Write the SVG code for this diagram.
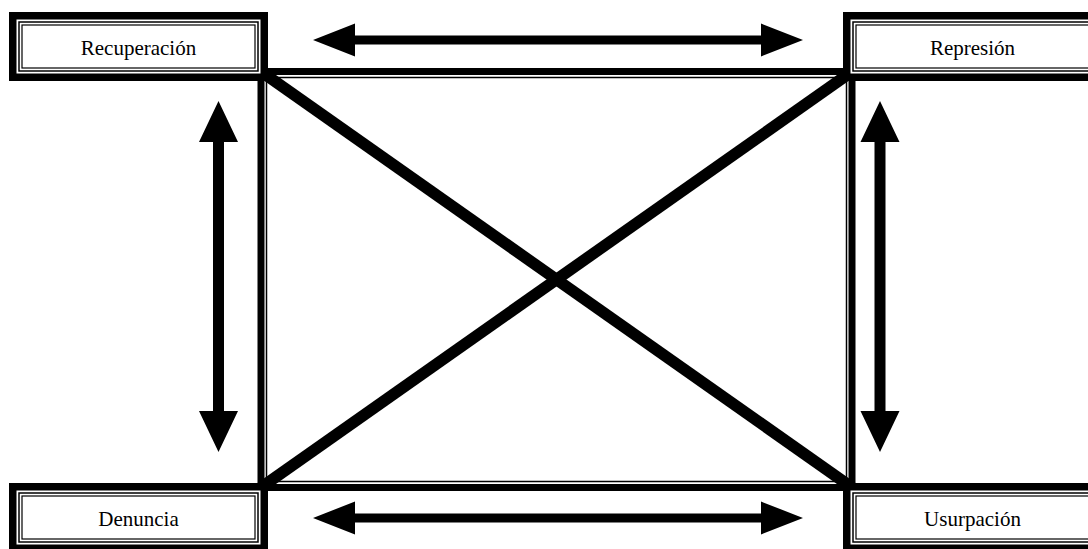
<svg xmlns="http://www.w3.org/2000/svg" width="1088" height="549" viewBox="0 0 1088 549">
<style>
.bg{fill:#ffffff}
.thick{fill:#ffffff;stroke:#000;stroke-width:7.5}
.thin{fill:none;stroke:#000;stroke-width:1.5}
.thin2{fill:none;stroke:#000;stroke-width:1.2}
.lbl{font-family:"Liberation Serif","Times New Roman",serif;font-size:21px;fill:#000;text-anchor:middle}
.frame{fill:none;stroke:#000;stroke-width:7}
.frame2{fill:none;stroke:#000;stroke-width:1.5}
.diag{stroke:#000;stroke-width:11.5;fill:none}
.arrow{fill:#000;stroke:none}
</style>
<rect class="bg" x="0" y="0" width="1088" height="549"/>
<g id="connectors">
  <rect class="frame" x="261" y="71.5" width="591" height="416"/>
  <rect class="frame2" x="266.5" y="77.5" width="580" height="404"/>
  <line class="diag" x1="261" y1="71.5" x2="852" y2="487.5"/>
  <line class="diag" x1="852" y1="71.5" x2="261" y2="487.5"/>
  <polygon class="arrow" points="313,40 355,23.5 355,35.5 761,35.5 761,23.5 803,40 761,56.5 761,44.5 355,44.5 355,56.5"/>
  <polygon class="arrow" points="313,518 355,501.5 355,513.5 761,513.5 761,501.5 803,518 761,534.5 761,522.5 355,522.5 355,534.5"/>
  <polygon class="arrow" points="218.5,101 238,142 224,142 224,411 238,411 218.5,452 199,411 213,411 213,142 199,142"/>
  <polygon class="arrow" points="880,101 899.5,142 885.5,142 885.5,411 899.5,411 880,452 860.5,411 874.5,411 874.5,142 860.5,142"/>
</g>
<g id="recuperacion" transform="translate(9,12)">
  <rect class="thick" x="3.75" y="3.75" width="251.5" height="61.5"/>
  <rect class="thin" x="10" y="10" width="239" height="49"/>
  <rect class="thin2" x="13" y="13" width="233" height="43"/>
  <text class="lbl" x="129.5" y="43">Recuperación</text>
</g>
<g id="represion" transform="translate(843,12)">
  <rect class="thick" x="3.75" y="3.75" width="251.5" height="61.5"/>
  <rect class="thin" x="10" y="10" width="239" height="49"/>
  <rect class="thin2" x="13" y="13" width="233" height="43"/>
  <text class="lbl" x="129.5" y="43">Represión</text>
</g>
<g id="denuncia" transform="translate(9,483)">
  <rect class="thick" x="3.75" y="3.75" width="251.5" height="61.5"/>
  <rect class="thin" x="10" y="10" width="239" height="49"/>
  <rect class="thin2" x="13" y="13" width="233" height="43"/>
  <text class="lbl" x="129.5" y="43">Denuncia</text>
</g>
<g id="usurpacion" transform="translate(843,483)">
  <rect class="thick" x="3.75" y="3.75" width="251.5" height="61.5"/>
  <rect class="thin" x="10" y="10" width="239" height="49"/>
  <rect class="thin2" x="13" y="13" width="233" height="43"/>
  <text class="lbl" x="129.5" y="43">Usurpación</text>
</g>
</svg>
